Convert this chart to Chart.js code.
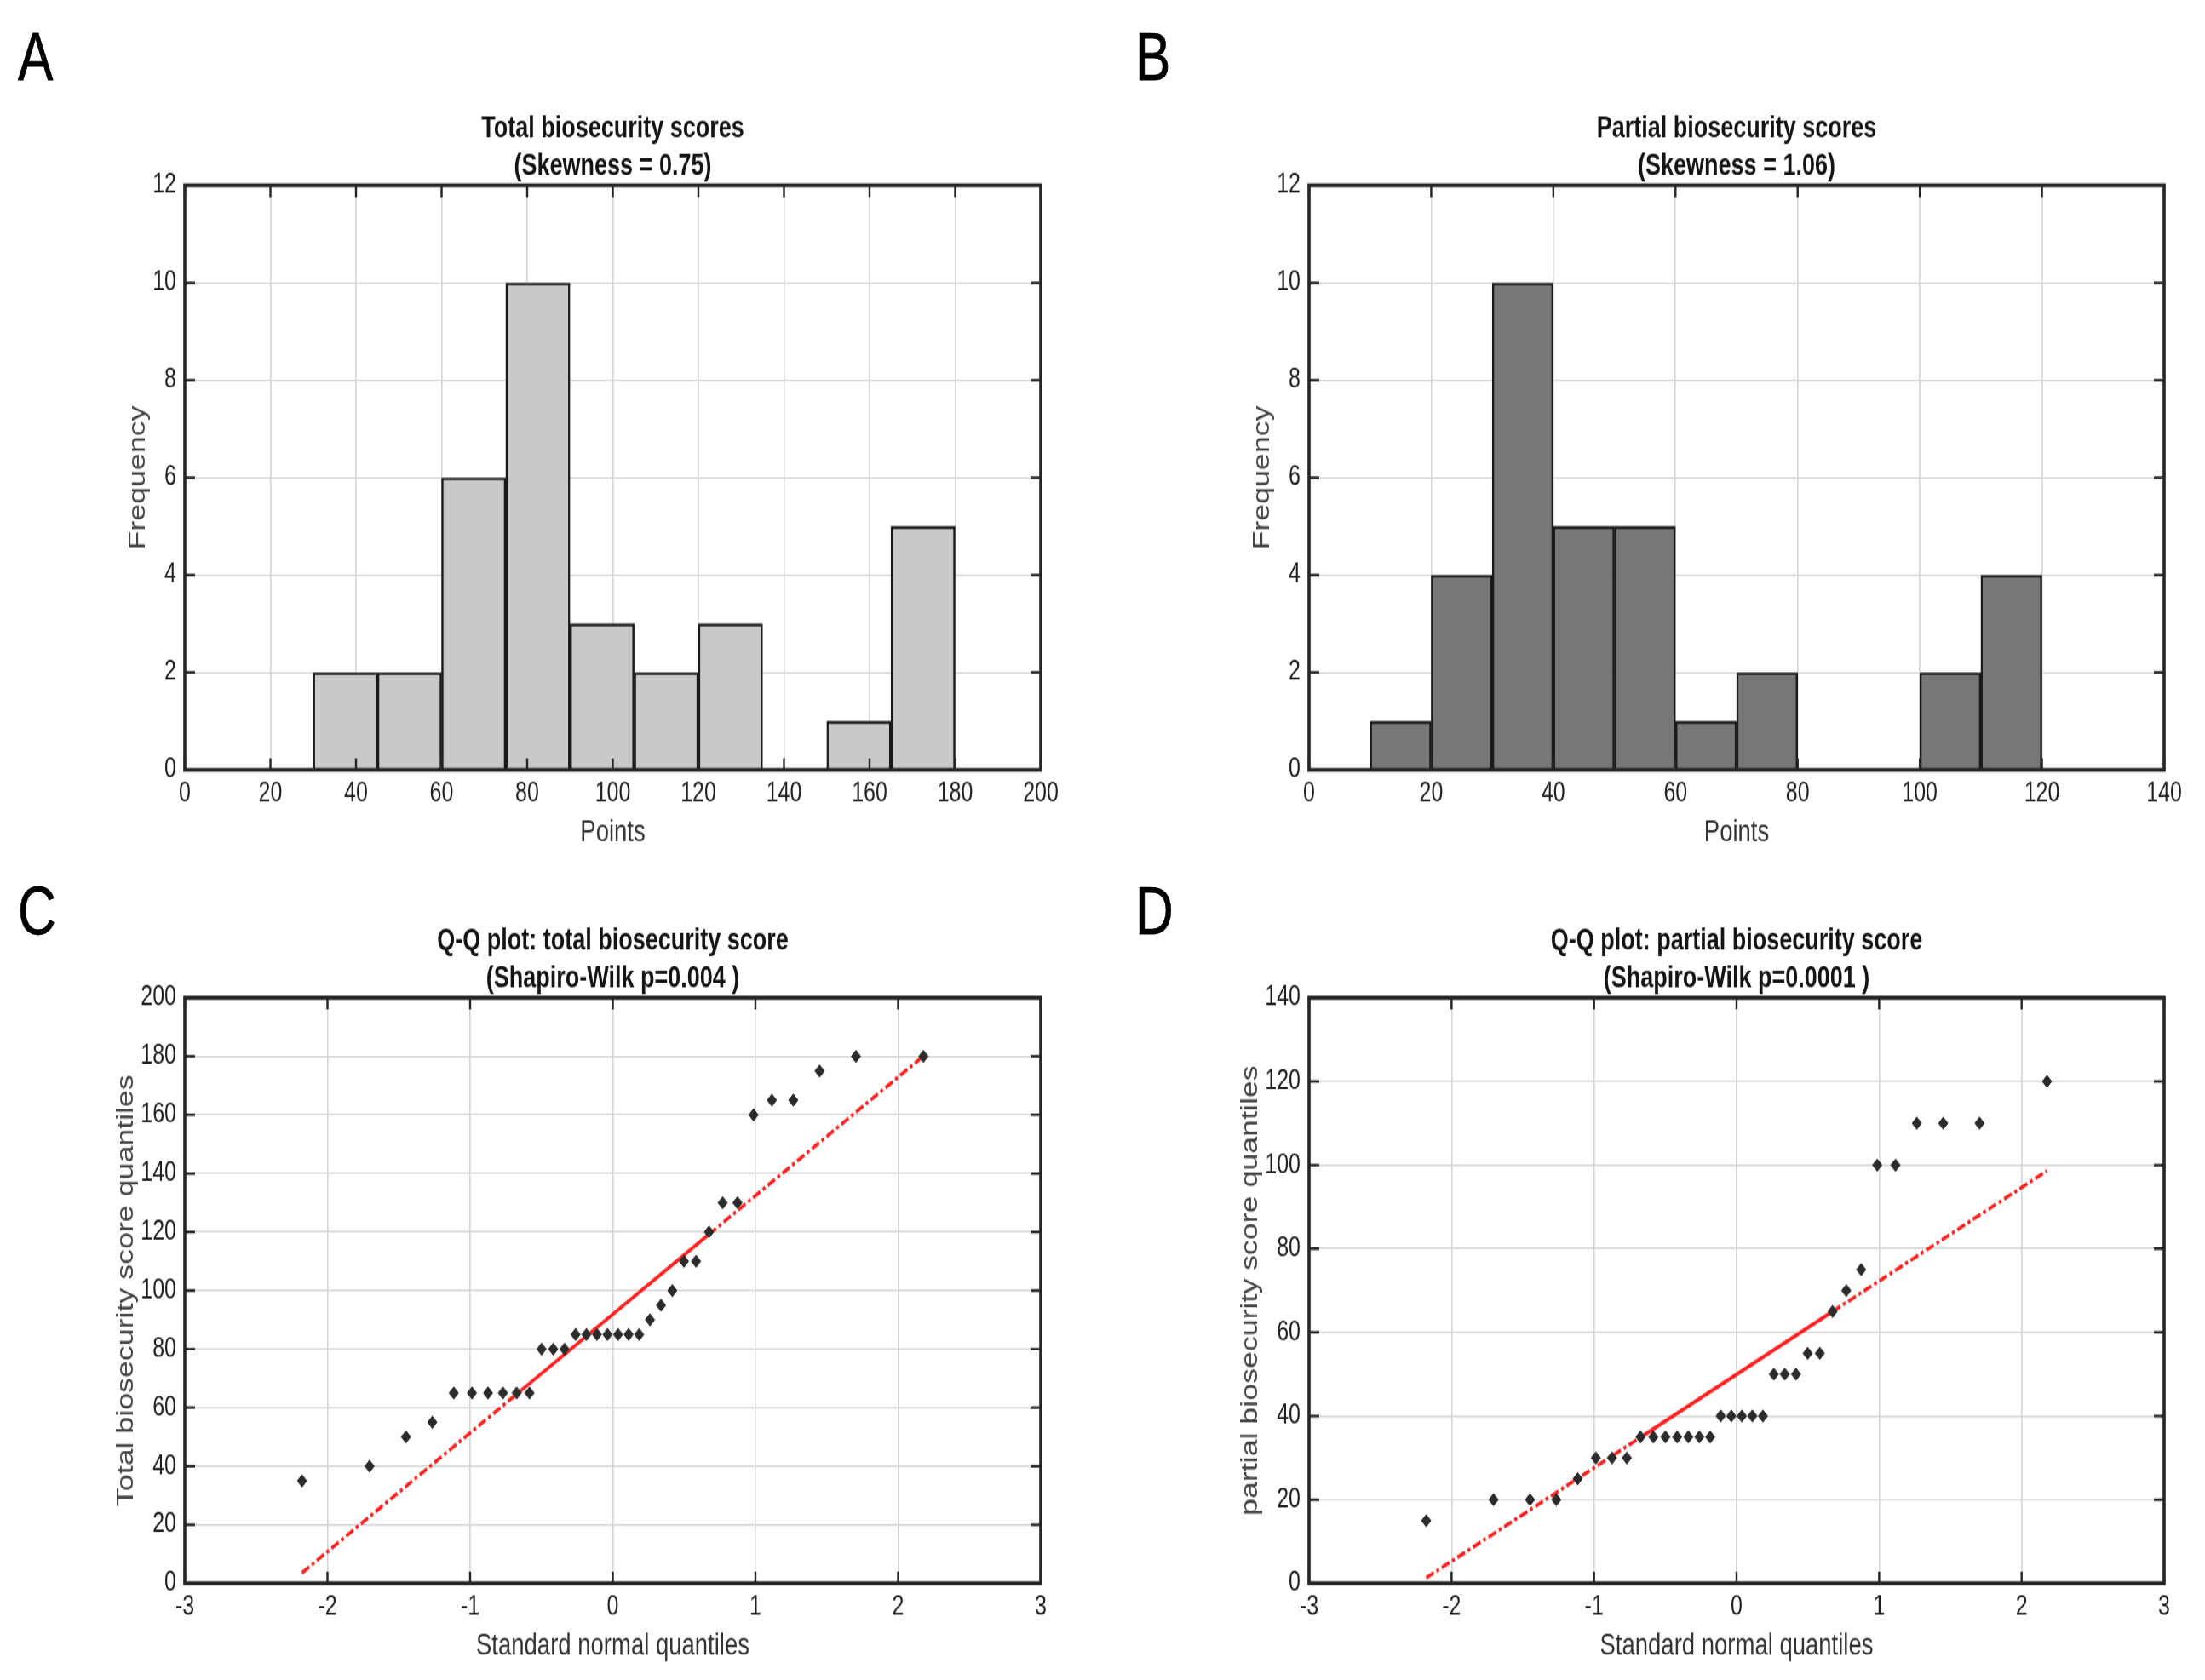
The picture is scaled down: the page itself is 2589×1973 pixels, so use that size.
<!DOCTYPE html>
<html>
<head>
<meta charset="utf-8">
<script src="https://cdn.jsdelivr.net/npm/chart.js@4.4.1/dist/chart.umd.min.js"></script>
<style>
  html, body { margin: 0; padding: 0; background: #fff; }
  body { width: 2589px; height: 1973px; position: relative; overflow: hidden;
         font-family: 'Liberation Sans', Arial, sans-serif; }
  /* the source figure is stretched vertically, so every panel is too */
  .panel { position: absolute; transform-origin: 0 0; transform: scale(1, 1.3); }
  .panel canvas { display: block; }
  .tag { position: absolute; font-size: 62px; line-height: 1; color: #000;
         transform-origin: 0 0; transform: scale(1, 1.3); -webkit-text-stroke: 0.6px #000; }
</style>
</head>
<body>
<div class="tag" style="left:21px;top:26px">A</div>
<div class="tag" style="left:1333px;top:26px">B</div>
<div class="tag" style="left:21px;top:1029px">C</div>
<div class="tag" style="left:1333px;top:1029px">D</div>

<div class="panel" id="pA"><canvas id="cA"></canvas></div>
<div class="panel" id="pB"><canvas id="cB"></canvas></div>
<div class="panel" id="pC"><canvas id="cC"></canvas></div>
<div class="panel" id="pD"><canvas id="cD"></canvas></div>

<script>
// ---- data ----
// A: histogram of total scores (bin start, count)
const totalBinStart = [30, 45, 60, 75, 90, 105, 120, 150, 165];
const totalCounts   = [2, 2, 6, 10, 3, 2, 3, 1, 5];
const totalBinWidth = 15;

// B: histogram of partial scores
const partialBinStart = [10, 20, 30, 40, 50, 60, 70, 100, 110];
const partialCounts   = [1, 4, 10, 5, 5, 1, 2, 2, 4];
const partialBinWidth = 10;

const freqTicks = [0, 12, 2];          // min, max, step
const totalPointTicks = [0, 200, 20];
const partialPointTicks = [0, 140, 20];

// C / D: Q-Q plots, 34 farms
const normalQuantiles = [
  -2.178, -1.705, -1.450, -1.265, -1.115, -0.987, -0.874, -0.770, -0.674, -0.584,
  -0.499, -0.417, -0.338, -0.261, -0.185, -0.111, -0.037, 0.037, 0.111, 0.185,
  0.261, 0.338, 0.417, 0.499, 0.584, 0.674, 0.770, 0.874, 0.987, 1.115,
  1.265, 1.450, 1.705, 2.178
];
const totalSorted = [
  35, 40, 50, 55, 65, 65, 65, 65, 65, 65, 80, 80, 80, 85, 85, 85, 85,
  85, 85, 85, 90, 95, 100, 110, 110, 120, 130, 130, 160, 165, 165, 175, 180, 180
];
const partialSorted = [
  15, 20, 20, 20, 25, 30, 30, 30, 35, 35, 35, 35, 35, 35, 35, 40, 40,
  40, 40, 40, 50, 50, 50, 55, 55, 65, 70, 75, 100, 100, 110, 110, 110, 120
];
// reference line: ends at the data range, solid between the quartiles
const fitX        = [-2.178, -0.674, 0.674, 2.178];
const totalFitY   = [3.6, 64.6, 119.2, 180.1];
const partialFitY = [1.3, 34.9, 65.0, 98.6];

const quantileTicks = [-3, 3, 1];
const totalScoreTicks = [0, 200, 20];
const partialScoreTicks = [0, 140, 20];

// ---- layout ----
const STRETCH = 1.3;
const TITLE_FONT = 27, TITLE_LH = 1.25;
const TITLE_H = 2 * TITLE_FONT * TITLE_LH;
const X_AXIS_H = 73.5;
const PAD_R = 30;

Chart.defaults.font.family = "'Liberation Sans', Arial, sans-serif";
Chart.defaults.color = '#262626';

const framePlugin = {
  id: 'frame',
  afterDraw(chart) {
    const { ctx, chartArea: a, scales: { x, y } } = chart;
    ctx.save();
    ctx.strokeStyle = '#262626';
    ctx.lineWidth = 2.4;
    ctx.beginPath();
    x.ticks.forEach(t => {
      const px = x.getPixelForValue(t.value);
      ctx.moveTo(px, a.bottom); ctx.lineTo(px, a.bottom - 10.5);
      ctx.moveTo(px, a.top);    ctx.lineTo(px, a.top + 10.5);
    });
    y.ticks.forEach(t => {
      const py = y.getPixelForValue(t.value);
      ctx.moveTo(a.left, py);  ctx.lineTo(a.left + 12, py);
      ctx.moveTo(a.right, py); ctx.lineTo(a.right - 12, py);
    });
    ctx.stroke();
    ctx.lineWidth = 3.6;
    ctx.strokeRect(a.left, a.top, a.right - a.left, a.bottom - a.top);
    ctx.restore();
  }
};

function axis(range, title, isY, yw, titlePad) {
  return {
    type: 'linear',
    min: range[0], max: range[1],
    offset: false,
    grid: { offset: false, color: '#d6d6d6', lineWidth: 1.6, drawTicks: false },
    border: { display: false },
    ticks: { stepSize: range[2], font: { size: 25 }, padding: isY ? 10 : 7, color: '#1f1f1f',
             autoSkip: false, maxRotation: 0 },
    title: {
      display: true, text: title, color: isY ? '#444444' : '#333333',
      font: { size: 27.5 }, padding: isY ? { top: titlePad, bottom: 0 } : { top: 0, bottom: 0 }
    },
    afterFit(scale) {
      if (isY) scale.width = yw; else scale.height = X_AXIS_H;
    }
  };
}

function baseOptions(titleLines, xScale, yScale) {
  return {
    responsive: false,
    animation: false,
    events: [],
    layout: { padding: { left: 0, top: 0, bottom: 0, right: PAD_R } },
    plugins: {
      legend: { display: false },
      tooltip: { enabled: false },
      title: {
        display: true, text: titleLines, fullSize: false, color: '#141414',
        font: { size: TITLE_FONT, weight: 'bold', lineHeight: TITLE_LH },
        padding: { top: 0, bottom: 0 }
      }
    },
    scales: { x: xScale, y: yScale }
  };
}

function histConfig(starts, counts, binW, xRange, fill, titleLines, yw, pad) {
  return {
    type: 'bar',
    data: {
      datasets: [{
        data: starts.map((s, i) => ({ x: s + binW / 2, y: counts[i] })),
        backgroundColor: fill,
        borderColor: '#1a1a1a',
        borderWidth: 2.5,
        barPercentage: 1,
        categoryPercentage: 1
      }]
    },
    options: baseOptions(titleLines,
      axis(xRange, 'Points', false),
      axis(freqTicks, 'Frequency', true, yw, pad)),
    plugins: [framePlugin]
  };
}

function qqConfig(sorted, fitY, yRange, yTitle, titleLines, yw, pad) {
  return {
    type: 'scatter',
    data: {
      datasets: [{
        data: normalQuantiles.map((q, i) => ({ x: q, y: sorted[i] })),
        pointStyle: 'rectRot',
        pointRadius: 5.5,
        backgroundColor: '#2b2b2b',
        borderColor: '#2b2b2b',
        borderWidth: 1
      }, {
        data: fitX.map((q, i) => ({ x: q, y: fitY[i] })),
        showLine: true,
        pointRadius: 0,
        borderColor: '#ff2424',
        borderWidth: 3.4,
        segment: { borderDash: c => c.p0DataIndex === 1 ? [] : [10, 3.5, 3.5, 3.5] }
      }]
    },
    options: baseOptions(titleLines,
      axis(quantileTicks, 'Standard normal quantiles', false),
      axis(yRange, yTitle, true, yw, pad)),
    plugins: [framePlugin]
  };
}

function mount(id, geo, cfg) {
  const wrap = document.getElementById('p' + id);
  const canvas = document.getElementById('c' + id);
  const x0 = geo.L - geo.yw;
  const y0 = geo.T - STRETCH * TITLE_H;
  const w = Math.round(geo.R - x0 + PAD_R);
  const h = Math.round((geo.B - y0) / STRETCH + X_AXIS_H);
  wrap.style.left = x0 + 'px';
  wrap.style.top = y0 + 'px';
  canvas.width = w; canvas.height = h;
  canvas.style.width = w + 'px'; canvas.style.height = h + 'px';
  new Chart(canvas, cfg);
}

const gA = { L: 217,  R: 1222, T: 218,  B: 904,  yw: 77 };
const gB = { L: 1537, R: 2541, T: 218,  B: 904,  yw: 77 };
const gC = { L: 217,  R: 1222, T: 1172, B: 1860, yw: 92 };
const gD = { L: 1537, R: 2541, T: 1172, B: 1860, yw: 92 };

mount('A', gA, histConfig(totalBinStart, totalCounts, totalBinWidth, totalPointTicks, '#c9c9c9',
  ['Total biosecurity scores', '(Skewness = 0.75)'], gA.yw, 5.5));
mount('B', gB, histConfig(partialBinStart, partialCounts, partialBinWidth, partialPointTicks, '#777777',
  ['Partial biosecurity scores', '(Skewness = 1.06)'], gB.yw, 5.5));
mount('C', gC, qqConfig(totalSorted, totalFitY, totalScoreTicks, 'Total biosecurity score quantiles',
  ['Q-Q plot: total biosecurity score', '(Shapiro-Wilk p=0.004 )'], gC.yw, 6.5));
mount('D', gD, qqConfig(partialSorted, partialFitY, partialScoreTicks, 'partial biosecurity score quantiles',
  ['Q-Q plot: partial biosecurity score', '(Shapiro-Wilk p=0.0001 )'], gD.yw, 6.5));
</script>
</body>
</html>
